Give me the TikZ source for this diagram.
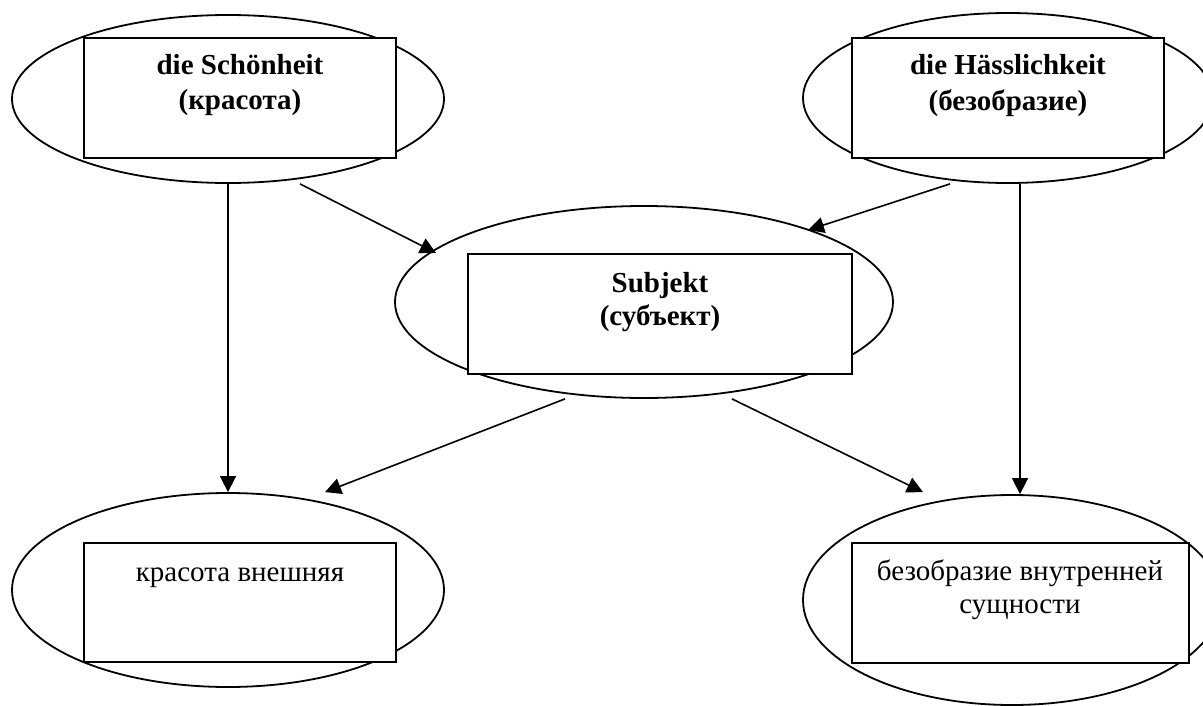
\documentclass[tikz,border=0pt]{standalone}
\usepackage{fontspec}
\setmainfont{Liberation Serif}
\usetikzlibrary{shapes.geometric,arrows.meta}
\tikzset{
  oval/.style={ellipse,draw,line width=1.8pt,inner sep=0pt},
  box/.style={rectangle,draw,fill=white,line width=2.2pt,inner sep=0pt},
  txtb/.style={anchor=base,inner sep=0pt,font=\fontsize{29}{33}\selectfont\bfseries},
  txtr/.style={anchor=base,inner sep=0pt,font=\fontsize{29}{33}\selectfont},
  conn/.style={line width=1.6pt,-{Triangle[length=16pt,width=16pt]}}
}
\begin{document}
\begin{tikzpicture}[x=1pt,y=-1pt]
\useasboundingbox (0,0) rectangle (1203,706);
\clip (0,0) rectangle (1203,706);
% ellipses
\node[oval,minimum width=432pt,minimum height=168pt] (tl) at (228,99) {};
\node[oval,minimum width=410pt,minimum height=170pt] (tr) at (1008,98) {};
\node[oval,minimum width=498pt,minimum height=192pt] (mid) at (644,302) {};
\node[oval,minimum width=432pt,minimum height=194pt] (bl) at (228,590) {};
\node[oval,minimum width=418pt,minimum height=210pt] (br) at (1012,600) {};
% rectangles
\node[box,minimum width=312pt,minimum height=120pt] (tlr) at (240,98) {};
\node[box,minimum width=312pt,minimum height=120pt] (trr) at (1008,98) {};
\node[box,minimum width=384pt,minimum height=120pt] (midr) at (660,314) {};
\node[box,minimum width=312pt,minimum height=119pt] (blr) at (240,602.5) {};
\node[box,minimum width=337pt,minimum height=120pt] (brr) at (1020.5,603) {};
% texts
\node[txtb] (t1a) at (240,75) {die Schönheit};
\node[txtb] (t1b) at (240,110) {(красота)};
\node[txtb] (t2a) at (1008,75) {die Hässlichkeit};
\node[txtb] (t2b) at (1008,111) {(безобразие)};
\node[txtb] (t3a) at (660,292) {Subjekt};
\node[txtb] (t3b) at (660,325) {(субъект)};
\node[txtr] (t4a) at (240,581) {красота внешняя};
\node[txtr] (t5a) at (1020,580) {безобразие внутренней};
\node[txtr] (t5b) at (1020,613) {сущности};
% connectors
\draw[conn] (tl.south) -- (bl.north);
\draw[conn] ([xshift=72pt]tl.south) -- ([xshift=42pt,yshift=49pt]mid.west);
\draw[conn] ([xshift=-58pt]tr.south) -- ([xshift=164pt,yshift=-25pt]mid.north);
\draw[conn] ([xshift=12pt]tr.south) -- ([xshift=8pt]br.north);
\draw[conn] ([xshift=-79pt]mid.south) -- ([xshift=97pt]bl.north);
\draw[conn] ([xshift=88pt]mid.south) -- ([xshift=-89pt,yshift=2pt]br.north);
\end{tikzpicture}
\end{document}
